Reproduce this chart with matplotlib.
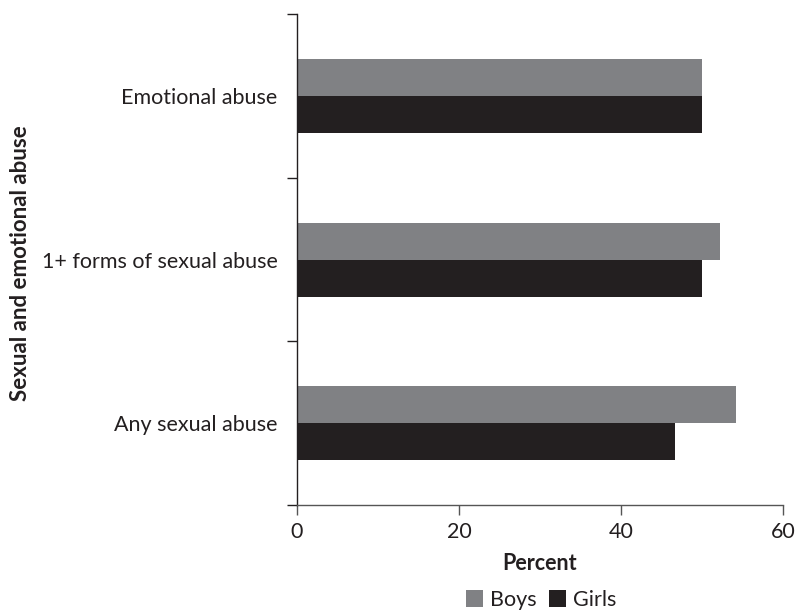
import numpy as np
import matplotlib.pyplot as plt

plt.rcParams['font.family'] = ['Lato', 'DejaVu Sans']

# categories from bottom to top
categories = ["Any sexual abuse", "1+ forms of sexual abuse", "Emotional abuse"]
boys = [54.2, 52.2, 50.0]
girls = [46.7, 50.0, 50.0]

BOYS_COLOR = "#808184"
GIRLS_COLOR = "#231f20"
FS = 15.5


def main() -> None:
    fig = plt.figure(figsize=(7.97, 6.11), dpi=100)
    ax = fig.add_axes([0.3727, 0.1735, 0.6097, 0.8035])

    y = np.arange(len(categories))
    h = 0.226
    ax.barh(y + h / 2, boys, height=h, color=BOYS_COLOR, label="Boys")
    ax.barh(y - h / 2, girls, height=h, color=GIRLS_COLOR, label="Girls")

    ax.set_xlim(0, 60)
    ax.set_ylim(-0.5, len(categories) - 0.5)
    ax.set_xticks([0, 20, 40, 60])
    ax.set_yticks(y)
    ax.set_yticklabels(categories)
    # ticks sit between the categories
    ax.set_yticks(np.arange(-0.5, len(categories)), minor=True)
    ax.tick_params(axis="y", which="major", length=0, pad=14, labelsize=FS,
                   labelcolor="#231f20")
    ax.tick_params(axis="y", which="minor", length=7, width=1.0, color="#231f20")
    ax.tick_params(axis="x", length=7, width=1.0, color="#555555", labelsize=FS,
                   labelcolor="#231f20", pad=5)

    for side in ("top", "right"):
        ax.spines[side].set_visible(False)
    ax.spines["left"].set_color("#231f20")
    ax.spines["left"].set_linewidth(1.0)
    ax.spines["bottom"].set_color("#555555")
    ax.spines["bottom"].set_linewidth(1.0)

    ax.set_xlabel("Percent", fontsize=FS, fontweight="bold", labelpad=8,
                  color="#231f20")
    fig.text(0.026, 0.57, "Sexual and emotional abuse", rotation=90,
             fontsize=16, fontweight="bold", ha="center", va="center",
             color="#231f20")

    leg = fig.legend(loc="lower center", bbox_to_anchor=(541 / 797, -0.03), ncol=2,
                     frameon=False, fontsize=FS, handlelength=0.8, handleheight=0.8,
                     handletextpad=0.3, columnspacing=0.6)
    for t in leg.get_texts():
        t.set_color("#231f20")

    fig.savefig("out.png", dpi=100)


if __name__ == "__main__":
    main()
